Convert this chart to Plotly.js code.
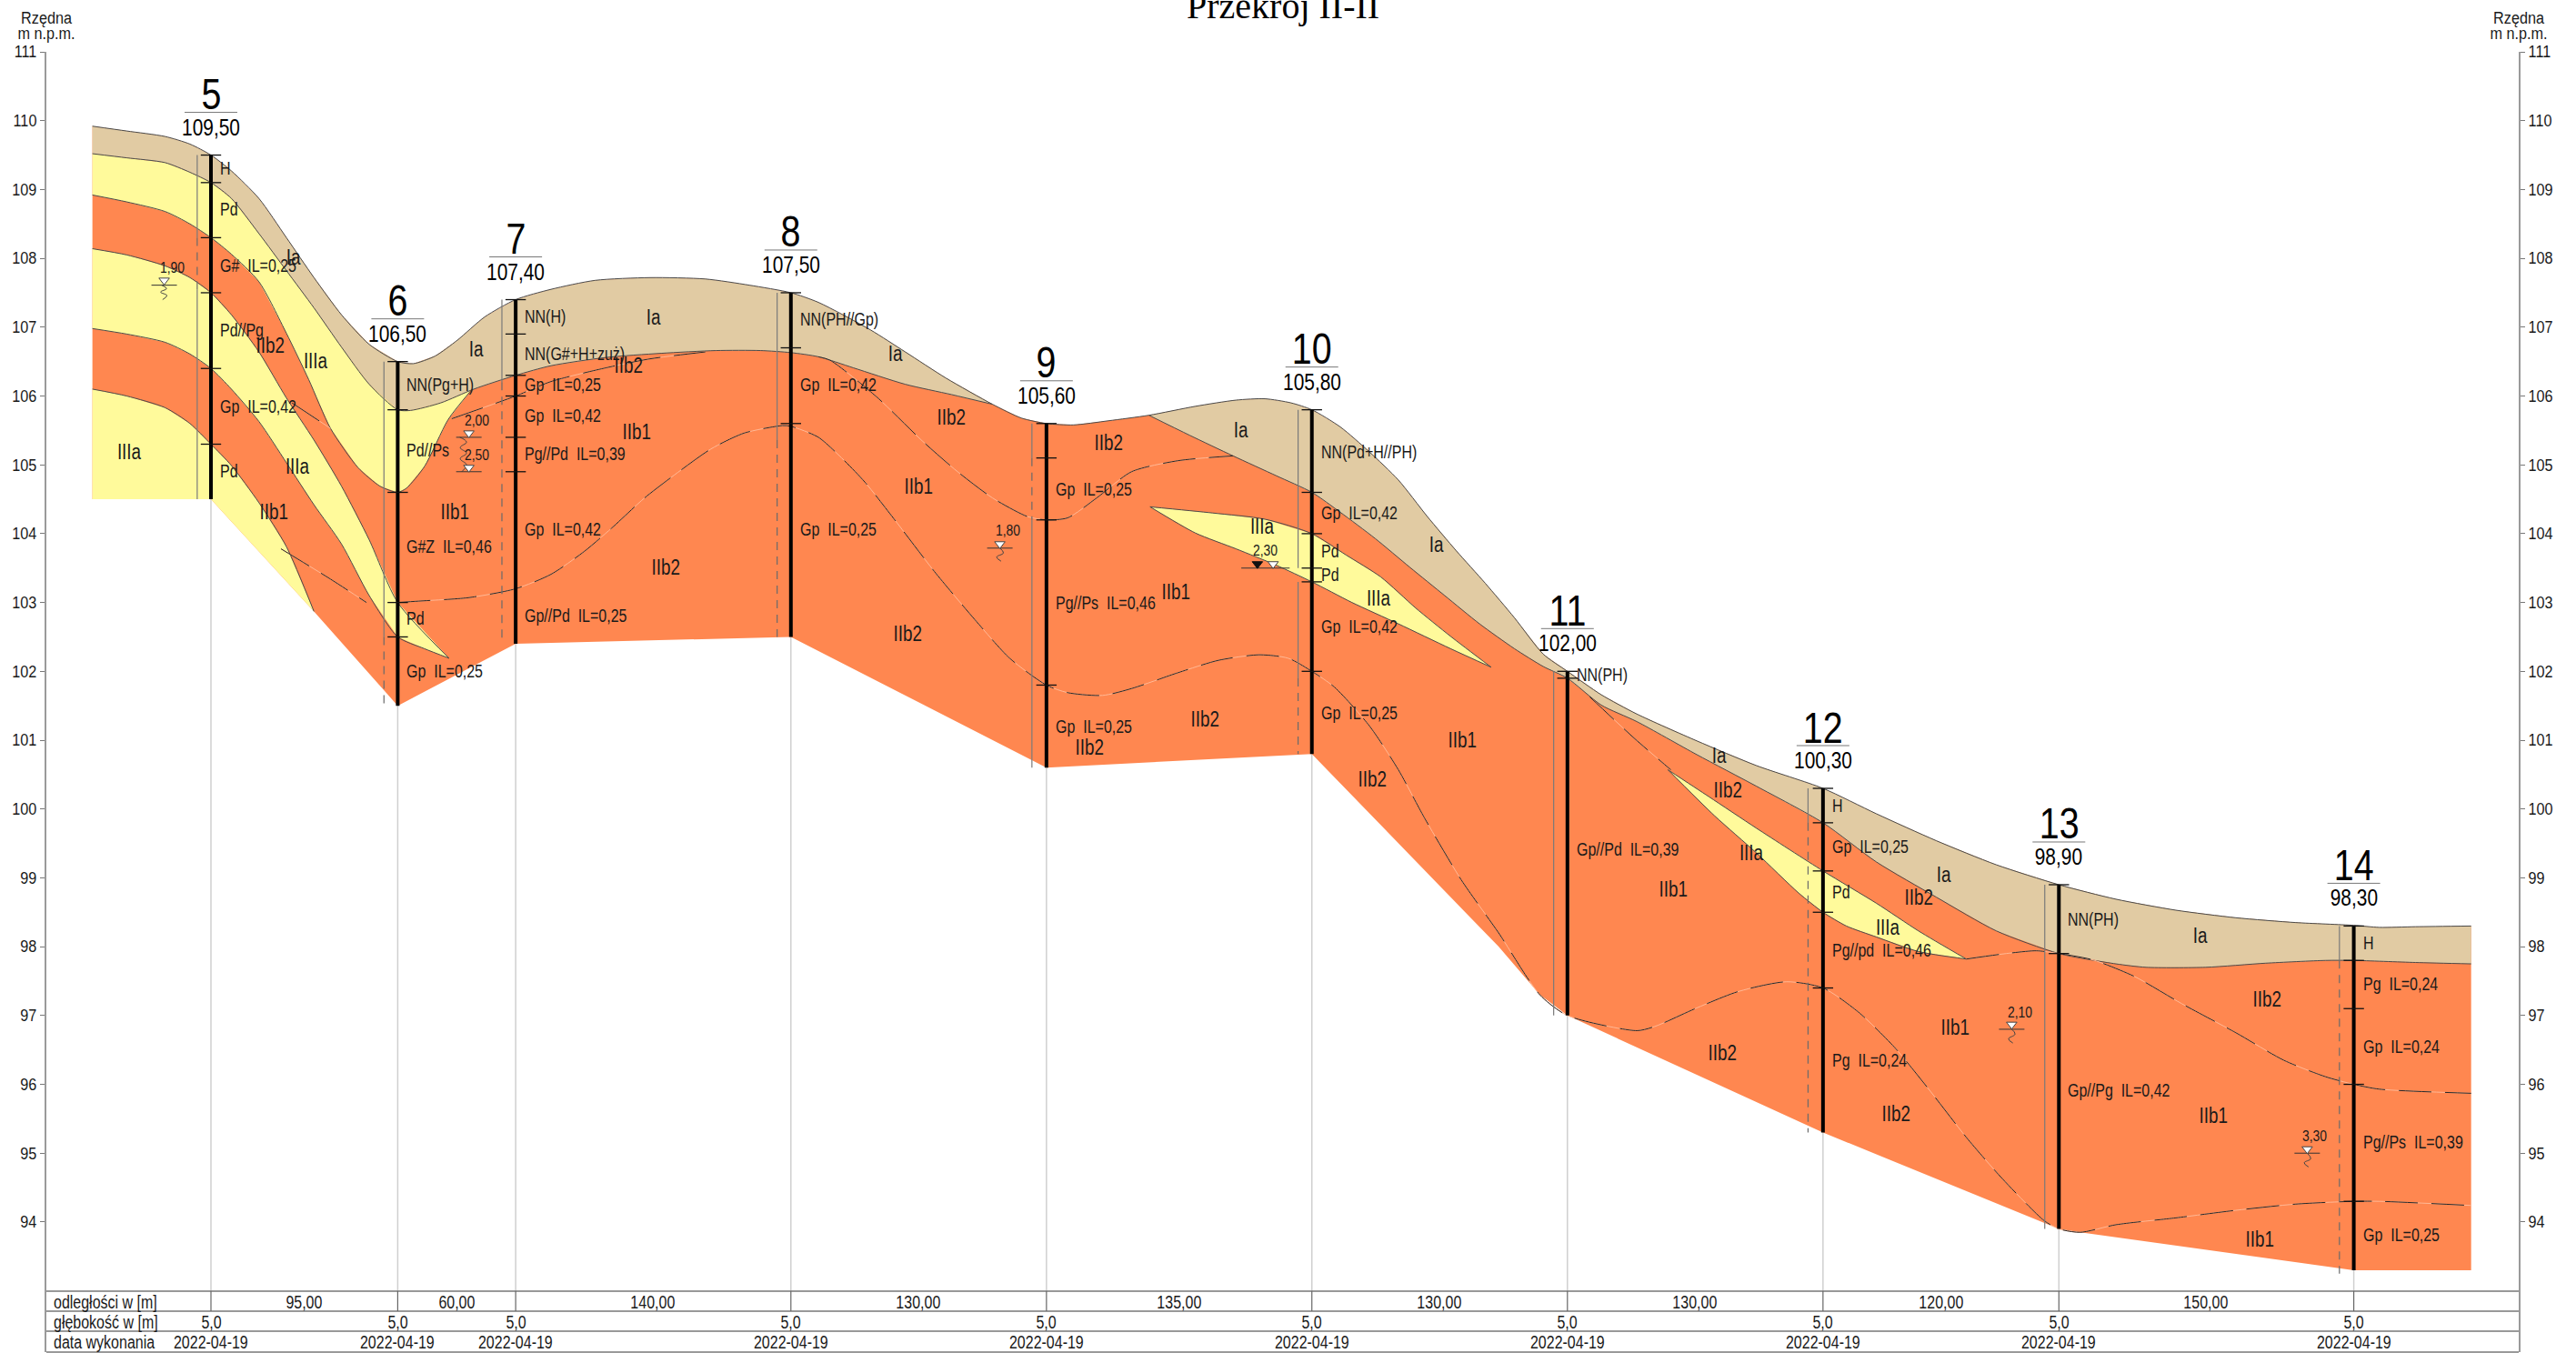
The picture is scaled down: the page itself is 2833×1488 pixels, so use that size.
<!DOCTYPE html>
<html>
<head>
<meta charset="utf-8">
<script src="https://cdn.plot.ly/plotly-3.0.1.min.js"></script>
<style>html,body{margin:0;padding:0;background:#fff}</style>
</head>
<body>
<div id="chart" style="width:2833px;height:1488px"></div>
<script>
// ---- boreholes ----
const boreNames = ['5','6','7','8','9','10','11','12','13','14'];
const boreX = [0,95,155,295,425,560,690,820,940,1090];
const boreTop = [109.5,106.5,107.4,107.5,105.6,105.8,102.0,100.3,98.9,98.3];
const boreTopText = ['109,50','106,50','107,40','107,50','105,60','105,80','102,00','100,30','98,90','98,30'];
const boreBottom = [104.5,101.5,102.4,102.5,100.6,100.8,97.0,95.3,93.9,93.3];
const boreTicks = [
  [109.5,109.1,108.3,107.5,106.4,105.3],
  [106.5,105.8,104.6,103.0,102.5],
  [107.4,106.9,106.3,106.0,105.4,104.9],
  [107.5,106.7,105.6],
  [105.6,105.1,104.2,101.8],
  [105.8,104.6,104.0,103.5,103.3,102.0],
  [102.0,101.9],
  [100.3,99.8,99.1,98.5,97.4],
  [98.9,97.9],
  [98.3,97.8,97.1,96.0,94.3]
];
const distText = ['95,00','60,00','140,00','130,00','135,00','130,00','130,00','120,00','150,00'];
const depthText = '5,0';
const dateText = '2022-04-19';
const rowNames = ['odległości w [m]','głębokość w [m]','data wykonania'];
const yTicks = [94,95,96,97,98,99,100,101,102,103,104,105,106,107,108,109,110,111];

// ---- ground boundaries [distance m, elevation m] ----
const surface = [[-60.3,109.92],[-42.9,109.85],[-23.3,109.77],[-10.7,109.66],[0,109.5],[10.4,109.27],[24.4,108.87],[38.4,108.3],[52.4,107.72],[66.4,107.18],[80.5,106.75],[95,106.5],[102.9,106.47],[114,106.58],[125.3,106.81],[139.3,107.15],[155,107.4],[173,107.55],[195.4,107.68],[223.4,107.72],[251.5,107.7],[273.9,107.61],[295,107.5],[309,107.36],[335.5,106.96],[353.2,106.64],[373.9,106.26],[397.5,105.88],[412.2,105.68],[425,105.6],[438.8,105.58],[456.5,105.64],[477.1,105.72],[500.7,105.85],[521.4,105.94],[536.1,105.96],[549.4,105.9],[560,105.8],[574.5,105.55],[589.2,105.19],[604,104.78],[618.7,104.25],[633.5,103.75],[648.2,103.28],[663,102.78],[677.7,102.25],[690,102.0],[707.2,101.66],[725.3,101.38],[755.8,100.99],[786.2,100.63],[820,100.3],[847.2,99.93],[877.6,99.54],[908.1,99.19],[940,98.9],[969,98.69],[999.5,98.53],[1030,98.42],[1060.5,98.35],[1090,98.31],[1103,98.28],[1121.4,98.29],[1149.7,98.3]];
const bottomEdge = [[-60.3,104.5],[0,104.5],[52.4,102.87],[95,101.5],[155,102.4],[295,102.5],[425,100.6],[560,100.8],[655,98.0],[676,97.3],[690,97.0],[820,95.3],[940,93.9],[950.8,93.85],[1090,93.3],[1149.7,93.3]];
const iaBaseA = [[-60.3,109.52],[-42.9,109.46],[-23.3,109.39],[-10.7,109.25],[0,109.1],[10.4,108.87],[24.4,108.36],[38.4,107.82],[52.4,107.28],[66.4,106.71],[80.5,106.17],[95,105.8],[101.5,105.79],[116.9,105.9],[133.7,106.1],[155,106.3],[173,106.44],[201,106.56],[229,106.62],[257,106.66],[279.5,106.66],[295,106.63],[309,106.57],[326.7,106.41],[353.2,106.17],[376.8,106.02],[397.5,105.88]];
const iaBaseB = [[477.1,105.72],[497.8,105.43],[519.9,105.13],[542,104.84],[560,104.6],[574.5,104.31],[592.2,103.93],[609.9,103.51],[627.6,103.1],[645.3,102.69],[663,102.33],[677.7,102.07],[690,101.9],[707.2,101.51],[725.3,101.27],[755.8,100.79],[786.2,100.33],[820,99.8],[847.2,99.23],[877.6,98.72],[908.1,98.23],[940,97.9],[969,97.75],[984.3,97.7],[1014.7,97.7],[1045.2,97.76],[1075.7,97.8],[1090,97.8],[1121.4,97.77],[1149.7,97.75]];
const edge1 = [[-60.3,108.92],[-42.9,108.82],[-23.3,108.68],[-10.7,108.5],[0,108.3],[10.4,108.06],[24.4,107.66],[38.4,106.91],[49.7,106.24],[60.8,105.53],[74.8,104.96],[86,104.69],[95,104.6],[99.4,104.66],[108.7,104.98],[120.7,105.66],[132.3,106.08]];
const edge2 = [[-60.3,108.14],[-42.9,108.05],[-23.3,107.89],[-10.7,107.72],[0,107.5],[10.4,107.18],[24.4,106.64],[38.4,105.97],[52.4,105.36],[66.4,104.69],[80.5,103.91],[95,103.0],[121.1,102.19]];
const edge3 = [[-60.3,106.98],[-42.9,106.9],[-23.3,106.78],[-10.7,106.61],[0,106.4],[10.4,106.1],[24.4,105.63],[38.4,105.03],[52.4,104.42],[66.4,103.85],[80.5,103.1],[95,102.5],[108.5,102.33],[121.1,102.19]];
const edge4 = [[-60.3,106.1],[-42.9,106.0],[-23.3,105.83],[-10.7,105.6],[0,105.3],[10.4,104.99],[24.4,104.45],[38.4,103.81],[52.4,102.87]];
const lensATop = [[477.7,104.39],[509.6,104.3],[536.1,104.21],[560,104.0],[577.4,103.69],[595.1,103.37],[612.8,102.92],[630.5,102.51],[651.2,102.06]];
const lensABase = [[477.7,104.39],[500.7,104.01],[521.4,103.78],[542,103.54],[560,103.3],[580.4,103.0],[604,102.69],[630.5,102.33],[651.2,102.06]];
const lensBTop = [[741.1,100.57],[761.9,100.18],[786.2,99.72],[820,99.1],[847.2,98.63],[868.5,98.23],[892.9,97.82]];
const lensBBase = [[741.1,100.57],[764.9,99.9],[786.2,99.36],[807.6,98.78],[820,98.5],[831.9,98.3],[847.2,98.14],[868.5,97.93],[892.9,97.82]];

// ---- dashed lines ----
const dashA = [[35.6,103.78],[60.8,103.34],[79.1,103.0]];
const dashB = [[95,103.0],[105.7,103.02],[130.9,103.07],[155,103.2],[173,103.41],[189.8,103.74],[203.8,104.08],[220.6,104.52],[237.5,104.89],[254.3,105.23],[271.1,105.46],[290.7,105.57],[295,105.56],[309,105.4],[320.8,105.1],[332.6,104.75],[347.3,104.22],[368,103.45],[388.6,102.75],[406.3,102.19],[425,101.8],[435.8,101.69],[453.5,101.65],[468.3,101.75],[491.9,101.98],[512.5,102.16],[533.2,102.24],[548,102.19],[560,102.0],[571.5,101.77],[589.2,101.21],[604,100.57],[617.3,99.87],[636,98.97],[655,98.2],[676,97.3],[690,97.0],[725.3,96.78],[734.4,96.84],[755.8,97.11],[777.1,97.35],[801.5,97.49],[820,97.4],[838,97.05],[856.3,96.54],[874.6,95.9],[892.9,95.23],[911.2,94.63],[932.5,94.02],[940,93.9],[950.8,93.85],[969,93.96],[999.5,94.06],[1030,94.17],[1060.5,94.26],[1090,94.3],[1103,94.3],[1149.7,94.24]];
const dashC = [[41.2,105.9],[60.8,105.53]];
const dashD = [[122.5,105.67],[155,106.0],[173,106.21],[201,106.41],[223.4,106.54],[251.5,106.64]];
const dashE = [[309,106.57],[314.9,106.52],[338.5,105.99],[362.1,105.34],[379.8,104.9],[397.5,104.52],[415.2,104.25],[425,104.2],[435.8,104.23],[450.6,104.52],[468.3,104.9],[491.9,105.06],[519.9,105.13]];
const dashF = [[701.3,101.63],[724.3,101.02],[742.6,100.57]];
const dashG = [[892.9,97.82],[913.2,97.9],[928.5,97.94],[940,97.9],[957,97.81],[978.2,97.57],[1002.6,97.17],[1030,96.75],[1054.4,96.35],[1075.7,96.11],[1090,96.0],[1103,95.93],[1149.7,95.87]];

// ---- thin line beside each borehole: x, solid parts, dashed parts (elevations) ----
const sideX = [-7,88,148,288,417.6,553,683,812.4,932.8,1082.7];
const sideSolid = [[[109.5,108.3],[107.55,104.5]],[[106.5,102.5]],[[107.4,106.2]],[[107.5,105.36]],[[105.6,105.1],[104.2,100.6]],[[105.8,103.5],[103.3,101.9]],[[102.0,97.0]],[[100.3,99.8]],[[98.9,93.9]],[[98.3,97.8]]];
const sideDash = [[[108.3,107.55]],[[102.5,101.45]],[[106.2,102.4]],[[105.36,102.5]],[[105.1,104.2]],[[101.9,100.8]],[],[[99.8,95.3]],[],[[97.8,93.25]]];

// ---- water level marks ----
const waterText = ['1,90','2,00','2,50','1,80','2,30','2,10','3,30'];
const waterLabelX = [-19.6,135.5,135.5,405.5,536.4,920,1070];
const waterLabelY = [107.86,105.64,105.14,104.05,103.75,97.05,95.25];
const waterOpenX = [-23.8,131.2,131.2,401.3,540.3,916,1066.3];
const waterOpenY = [107.68,105.46,104.96,103.85,103.56,96.87,95.06];
const waterLineX = [-23.8,131.2,131.2,401.3,536.4,916,1066.3];
const waterLineY = [107.61,105.4,104.9,103.79,103.5,96.8,95.0];
const waterWideLine = [false,false,false,false,true,false,false];
const waterFilledX = [532.3];
const waterFilledY = [103.56];
const waveA = [[-25,107.61],[-22.6,107.56],[-25.6,107.51],[-22.4,107.46],[-24.6,107.4]];
const waveB = [[126.6,105.4],[130,105.33],[126.8,105.25],[130,105.17],[126.8,105.09],[130,105.0],[127.6,104.9]];
const waveC = [[401.3,103.79],[403.1,103.72],[399.7,103.66],[401.9,103.6]];
const waveD = [[916,96.8],[917.7,96.73],[914.4,96.66],[916.6,96.6]];
const waveE = [[1066.3,95.0],[1068.1,94.92],[1064.8,94.86],[1067,94.8]];

// ---- labels ----
const layerText = ['IIIa','Ia','IIb2','IIIa','IIIa','IIb1','Ia','IIb1','Ia','IIb2','IIb1','IIb2','Ia','IIb2','IIb1','IIb2','IIb2','IIb1','IIb2','IIb2','Ia','IIIa','IIIa','Ia','IIb1','IIb2','Ia','IIb2','IIIa','IIb1','IIb2','IIb2','Ia','IIIa','IIb2','IIb1','Ia','IIb2','IIb1','IIb1'];
const layerX = [-41.5,42,30,53,44,32,134.8,123.9,225,212.2,216.4,231.3,347.9,376.3,360,354.1,456.5,490.7,505.5,447,523.8,534.7,594,623.2,636.4,590.7,767.3,771.6,783.5,743.6,768.6,868.8,881.3,852.7,856.9,887.1,1011.7,1045.8,1018.4,1042.2];
const layerY = [105.19,108.01,106.73,106.51,104.97,104.32,106.68,104.32,107.14,106.44,105.48,103.51,106.61,105.69,104.68,102.55,105.32,103.15,101.3,100.89,105.51,104.1,103.06,103.84,101.0,100.43,100.78,100.27,99.36,98.83,96.46,98.71,99.04,98.28,95.57,96.83,98.16,97.23,95.55,93.75];
const soilBore = [0,0,0,0,0,0,1,1,1,1,1,2,2,2,2,2,2,2,3,3,3,4,4,4,5,5,5,5,5,5,6,6,7,7,7,7,7,8,8,9,9,9,9,9];
const soilY = [109.31,108.71,107.9,106.96,105.85,104.91,106.16,105.21,103.81,102.77,102.01,107.16,106.61,106.16,105.72,105.16,104.06,102.81,107.12,106.16,104.06,104.65,102.99,101.2,105.19,104.3,103.75,103.41,102.65,101.4,101.95,99.42,100.05,99.46,98.8,97.95,96.35,98.4,95.91,98.05,97.46,96.55,95.16,93.81];
const soilText = ['H','Pd','G#  IL=0,25','Pd//Pg','Gp  IL=0,42','Pd','NN(Pg+H)','Pd//Ps','G#Z  IL=0,46','Pd','Gp  IL=0,25','NN(H)','NN(G#+H+zuż)','Gp  IL=0,25','Gp  IL=0,42','Pg//Pd  IL=0,39','Gp  IL=0,42','Gp//Pd  IL=0,25','NN(PH//Gp)','Gp  IL=0,42','Gp  IL=0,25','Gp  IL=0,25','Pg//Ps  IL=0,46','Gp  IL=0,25','NN(Pd+H//PH)','Gp  IL=0,42','Pd','Pd','Gp  IL=0,42','Gp  IL=0,25','NN(PH)','Gp//Pd  IL=0,39','H','Gp  IL=0,25','Pd','Pg//pd  IL=0,46','Pg  IL=0,24','NN(PH)','Gp//Pg  IL=0,42','H','Pg  IL=0,24','Gp  IL=0,24','Pg//Ps  IL=0,39','Gp  IL=0,25'];

// ---- styles ----
const FONT = '"Liberation Sans",Arial,sans-serif';
const INK = '#1a1a1a', EDGE = '#4a4a4a', AXIS = '#9a9a9a';
const ORANGE = '#FF8750', YELLOW = '#FFFA9B', TAN = '#E1CBA3';
const SQUEEZE = 0.82, SQUEEZE_AXIS = 0.9;

const xs = a => a.map(p => p[0]);
const ys = a => a.map(p => p[1]);
const upTo = (a, x) => a.filter(p => p[0] <= x);
const poly = (pts, color) => ({x: xs(pts), y: ys(pts), mode: 'lines', fill: 'toself', fillcolor: color,
  line: {width: 0, color: color}, hoverinfo: 'skip', showlegend: false, xaxis: 'x', yaxis: 'y'});
const line = (pts, o) => ({x: xs(pts), y: ys(pts), mode: 'lines', hoverinfo: 'skip', showlegend: false,
  line: Object.assign({color: EDGE, width: 1, shape: 'spline', smoothing: 0.7}, o || {}), xaxis: 'x', yaxis: 'y'});

const traces = [];
// fills, back to front
traces.push(poly(surface.concat(bottomEdge.slice().reverse()), ORANGE));
traces.push(poly(upTo(surface, 397.5).concat(iaBaseA.slice().reverse()), TAN));
traces.push(poly(surface.filter(p => p[0] >= 477.1).concat(iaBaseB.slice().reverse()), TAN));
traces.push(poly(upTo(iaBaseA, 133.7).concat(edge1.slice().reverse()), YELLOW));
traces.push(poly(edge2.concat(edge3.slice().reverse()), YELLOW));
traces.push(poly(edge4.concat(bottomEdge.slice(0, 3).reverse()), YELLOW));
traces.push(poly(lensATop.concat(lensABase.slice().reverse()), YELLOW));
traces.push(poly(lensBTop.concat(lensBBase.slice().reverse()), YELLOW));
// boundaries
[surface, iaBaseA, iaBaseB, edge1, edge2, edge3, edge4, lensATop, lensABase, lensBTop, lensBBase].forEach(b => traces.push(line(b)));
[dashA, dashB, dashC, dashD, dashE, dashF, dashG].forEach(b => {
  traces.push(line(b, {color: '#FFB996', width: 1}));
  traces.push(line(b, {dash: '36px,15px', color: '#262626'}));
});
// thin side lines
sideX.forEach((x, i) => {
  sideSolid[i].forEach(s => traces.push(line([[x, s[0]], [x, s[1]]], {color: '#7a7a7a', width: 1.2, shape: 'linear'})));
  sideDash[i].forEach(s => traces.push(line([[x, s[0]], [x, s[1]]], {color: '#6a6a6a', width: 1.2, dash: '9px,7px', shape: 'linear'})));
});
// boreholes
boreX.forEach((x, i) => {
  traces.push(line([[x, boreTop[i]], [x, boreBottom[i]]], {color: '#000', width: 4, shape: 'linear'}));
  traces.push({x: boreTicks[i].map(() => x), y: boreTicks[i], mode: 'markers', hoverinfo: 'skip', showlegend: false,
    marker: {symbol: 'line-ew', size: 16, line: {width: 1.3, color: '#111'}}, xaxis: 'x', yaxis: 'y'});
});
// water marks
[waveA, waveB, waveC, waveD, waveE].forEach(w => traces.push(line(w, {color: '#444', width: 1, smoothing: 1.2})));
traces.push({x: waterLineX.filter((v, i) => !waterWideLine[i]), y: waterLineY.filter((v, i) => !waterWideLine[i]), mode: 'markers',
  hoverinfo: 'skip', showlegend: false, marker: {symbol: 'line-ew', size: 20, line: {width: 1, color: '#333'}}});
traces.push({x: waterLineX.filter((v, i) => waterWideLine[i]), y: waterLineY.filter((v, i) => waterWideLine[i]), mode: 'markers',
  hoverinfo: 'skip', showlegend: false, marker: {symbol: 'line-ew', size: 38, line: {width: 1, color: '#333'}}});
traces.push({x: waterOpenX, y: waterOpenY, mode: 'markers', hoverinfo: 'skip', showlegend: false,
  marker: {symbol: 'triangle-down', size: 10, color: '#fff', line: {width: 1, color: '#444'}}});
traces.push({x: waterFilledX, y: waterFilledY, mode: 'markers', hoverinfo: 'skip', showlegend: false,
  marker: {symbol: 'triangle-down', size: 10, color: '#111', line: {width: 1, color: '#111'}}});
// mirror axis carrier
traces.push({x: [0], y: [100], mode: 'markers', marker: {opacity: 0}, hoverinfo: 'skip', showlegend: false, xaxis: 'x', yaxis: 'y2'});

// annotations
const PLOT_TOP = 57, PLOT_BOT = 1487;
const paperY = py => (PLOT_BOT - py) / (PLOT_BOT - PLOT_TOP);
const ann = [];
const note = (o) => ann.push(Object.assign({showarrow: false, xref: 'x', yref: 'y', xanchor: 'center', yanchor: 'middle', borderpad: 0}, o));
const nb = s => s.replace(/ /g, '\u00a0');
layerText.forEach((t, i) => note({text: t, x: layerX[i], y: layerY[i], font: {family: FONT, size: 23, color: INK}}));
soilText.forEach((t, i) => note({text: nb(t), x: boreX[soilBore[i]], y: soilY[i], xanchor: 'left', xshift: 9, font: {family: FONT, size: 19.5, color: INK}}));
waterText.forEach((t, i) => note({text: t, x: waterLabelX[i], y: waterLabelY[i], font: {family: FONT, size: 17, color: INK}}));
boreNames.forEach((t, i) => {
  note({text: t, x: boreX[i], y: boreTop[i], yshift: 67, font: {family: FONT, size: 48, color: '#000'}});
  note({text: boreTopText[i], x: boreX[i], y: boreTop[i], yshift: 31, font: {family: FONT, size: 25.5, color: '#000'}});
});
// table texts
const ROW_Y = [1432, 1454, 1476];
rowNames.forEach((t, i) => note({text: t, xref: 'paper', x: 0, xshift: 7, xanchor: 'left', yref: 'paper', y: paperY(ROW_Y[i]), font: {family: FONT, size: 19.5, color: INK}}));
distText.forEach((t, i) => note({text: t, x: (boreX[i] + boreX[i + 1]) / 2, yref: 'paper', y: paperY(ROW_Y[0]), font: {family: FONT, size: 19.5, color: INK}}));
boreX.forEach(x => {
  note({text: depthText, x: x, yref: 'paper', y: paperY(ROW_Y[1]), font: {family: FONT, size: 19.5, color: INK}});
  note({text: dateText, x: x, yref: 'paper', y: paperY(ROW_Y[2]), font: {family: FONT, size: 19.5, color: INK}});
});
const condensedCount = ann.length;
// axis captions
[0, 1].forEach(side => {
  note({text: 'Rzędna', xref: 'paper', x: side, yref: 'paper', y: paperY(20), font: {family: FONT, size: 18, color: INK}});
  note({text: 'm n.p.m.', xref: 'paper', x: side, yref: 'paper', y: paperY(37), font: {family: FONT, size: 18, color: INK}});
});
const axisCaptionEnd = ann.length;
note({text: 'Przekrój II-II', xref: 'paper', x: 0.5, yref: 'paper', y: paperY(6), font: {family: '"Liberation Serif","Times New Roman",serif', size: 40, color: '#000'}});

// shapes: table grid, borehole header rules, drop lines
const shapes = [];
const ROW_LINES = [1420, 1442, 1464];
ROW_LINES.forEach(py => shapes.push({type: 'line', xref: 'paper', yref: 'paper', x0: 0, x1: 1, y0: paperY(py), y1: paperY(py), line: {color: '#777', width: 1.5}, layer: 'above'}));
shapes.push({type: 'line', xref: 'paper', yref: 'paper', x0: 0, x1: 1, y0: 0, y1: 0, line: {color: AXIS, width: 2}, layer: 'above'});
boreX.forEach((x, i) => {
  shapes.push({type: 'line', xref: 'x', yref: 'y', x0: x, x1: x, y0: boreBottom[i], y1: 92.11 + (PLOT_BOT - 1420) / 75.7, line: {color: '#cfcfcf', width: 1.5}, layer: 'below'});
  shapes.push({type: 'line', xref: 'x', yref: 'paper', x0: x, x1: x, y0: paperY(1420), y1: paperY(1442), line: {color: '#666', width: 1.2}, layer: 'above'});
  shapes.push({type: 'line', xref: 'x', yref: 'y', xsizemode: 'pixel', xanchor: x, ysizemode: 'pixel', yanchor: boreTop[i], x0: -29, x1: 29, y0: 47, y1: 47, line: {color: '#777', width: 1}});
});

const axisBase = {tickmode: 'array', tickvals: yTicks, ticktext: yTicks.map(String), ticks: 'outside', ticklen: 5, tickwidth: 1, tickcolor: '#777',
  showline: true, linecolor: AXIS, linewidth: 2, showgrid: false, zeroline: false, range: [92.11, 111],
  tickfont: {family: FONT, size: 18, color: INK}};

const layout = {
  width: 2833, height: 1488,
  margin: {l: 51, r: 63, t: PLOT_TOP, b: 1, pad: 0},
  paper_bgcolor: '#fff', plot_bgcolor: '#fff', showlegend: false,
  xaxis: {range: [-83.72, 1173.9], showgrid: false, zeroline: false, showline: false, showticklabels: false, ticks: ''},
  yaxis: Object.assign({}, axisBase, {side: 'left'}),
  yaxis2: Object.assign({}, axisBase, {side: 'right', overlaying: 'y', anchor: 'x'}),
  annotations: ann, shapes: shapes
};

// The drawing uses a condensed sans: narrow the real text glyphs horizontally after layout.
function narrow(t, k) {
  const w = t.getComputedTextLength();
  t.setAttribute('lengthAdjust', 'spacingAndGlyphs');
  t.setAttribute('textLength', w * k);
  return w;
}
function condense(gd) {
  gd.querySelectorAll('.annotation').forEach(g => {
    const idx = +g.getAttribute('data-index');
    if (idx >= axisCaptionEnd) return;
    const t = g.querySelector('.annotation-text');
    if (!t) return;
    const k = idx >= condensedCount ? SQUEEZE_AXIS : SQUEEZE;
    const w = narrow(t, k);
    if (ann[idx].xanchor === 'left') t.setAttribute('x', parseFloat(t.getAttribute('x') || 0) - w * (1 - k) / 2);
  });
  gd.querySelectorAll('.ytick text, .y2tick text').forEach(t => narrow(t, SQUEEZE_AXIS));
}
Plotly.newPlot('chart', traces, layout, {staticPlot: true, displayModeBar: false}).then(condense);
</script>
</body>
</html>
